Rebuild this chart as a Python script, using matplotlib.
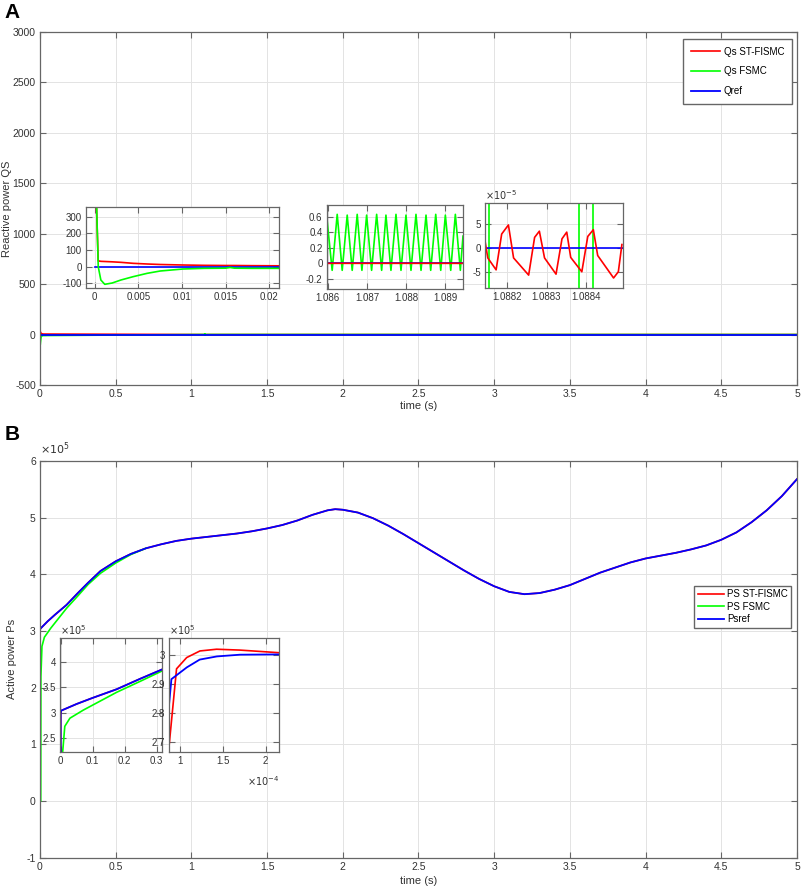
import numpy as np
import matplotlib
matplotlib.use("Agg")
import matplotlib.pyplot as plt
from matplotlib.ticker import FuncFormatter

plt.rcParams['font.family'] = ['Liberation Sans', 'DejaVu Sans']
plt.rcParams['axes.unicode_minus'] = False

RED = '#ff0000'
GREEN = '#00ff00'
BLUE = '#0000ff'
FRAME = '#666666'
TXT = '#333333'

# ---- panel A : reactive power ----
# start-up transient (s)
t_q = [0, 0.0002, 0.0004, 0.0007, 0.00115, 0.002, 0.003, 0.0044, 0.006, 0.0075,
       0.0101, 0.0125, 0.015, 0.0155, 0.016, 0.018, 0.0215]
qs_st = [1500, 360, 35, 32, 31, 29, 26, 20, 16, 13, 10, 8, 7, 7, 7, 6, 5]
qs_fsmc = [2860, 400, 0, -80, -106, -98, -80, -60, -40, -26, -14, -10, -9, -5, -9, -10, -10]

# FSMC chattering around t = 1.087 s
t_wave = [1.085967, 1.086110, 1.086239, 1.086367, 1.086495, 1.086623, 1.086751, 1.086872,
          1.086992, 1.087120, 1.087249, 1.087377, 1.087487, 1.087615, 1.087744, 1.087872,
          1.088000, 1.088128, 1.088256, 1.088385, 1.088513, 1.088633, 1.088762, 1.088890,
          1.089008, 1.089146, 1.089264, 1.089392, 1.08946]
qs_fsmc_wave = [0.62, -0.09, 0.63, -0.09, 0.62, -0.09, 0.63, -0.09, 0.62, -0.09, 0.63, -0.09,
                0.62, -0.09, 0.63, -0.09, 0.62, -0.09, 0.63, -0.09, 0.62, -0.09, 0.63, -0.09,
                0.62, -0.09, 0.63, -0.09, 0.35]

# ST-FISMC around t = 1.0883 s
t_st_zoom = [1.088145, 1.088152, 1.088173, 1.088187, 1.088204, 1.088217, 1.088255, 1.088270,
             1.088282, 1.088295, 1.088324, 1.088339, 1.088351, 1.088361, 1.088389, 1.088404,
             1.088418, 1.088429, 1.088469, 1.088481, 1.088490]
qs_st_zoom = [1.5e-5, -2.1e-5, -4.6e-5, 2.9e-5, 4.8e-5, -2.1e-5, -5.7e-5, 2.2e-5, 3.5e-5, -2.1e-5,
              -5.5e-5, 1.9e-5, 3.3e-5, -2.0e-5, -5.0e-5, 2.4e-5, 3.8e-5, -1.6e-5, -6.3e-5, -5.0e-5, 0.7e-5]
t_fsmc_cross = [1.088155, 1.088381, 1.088417]

# ---- panel B : active power (W) ----
t_p = [0, 0.00009, 0.000108, 0.000123, 0.000143, 0.00017, 0.000215, 0.002, 0.05, 0.1, 0.175,
       0.25, 0.317, 0.4, 0.5, 0.6, 0.7, 0.8, 0.9, 1.0, 1.1, 1.2, 1.3, 1.4, 1.5, 1.6, 1.7, 1.8,
       1.9, 1.95, 2.0, 2.1, 2.2, 2.3, 2.4, 2.5, 2.6, 2.7, 2.8, 2.9, 3.0, 3.1, 3.2, 3.3, 3.4,
       3.5, 3.6, 3.7, 3.8, 3.9, 4.0, 4.1, 4.2, 4.3, 4.4, 4.5, 4.6, 4.7, 4.8, 4.9, 5.0]
ps_ref = [0, 2.917e5, 2.958e5, 2.985e5, 2.996e5, 3.002e5, 3.003e5, 3.04e5, 3.17e5, 3.29e5, 3.46e5,
          3.67e5, 3.85e5, 4.06e5, 4.23e5, 4.36e5, 4.46e5, 4.53e5, 4.59e5, 4.63e5, 4.66e5, 4.69e5,
          4.72e5, 4.76e5, 4.81e5, 4.87e5, 4.95e5, 5.05e5, 5.13e5, 5.15e5, 5.14e5, 5.09e5, 4.99e5,
          4.86e5, 4.71e5, 4.55e5, 4.39e5, 4.23e5, 4.07e5, 3.92e5, 3.79e5, 3.69e5, 3.65e5, 3.67e5,
          3.73e5, 3.81e5, 3.92e5, 4.03e5, 4.12e5, 4.21e5, 4.28e5, 4.33e5, 4.38e5, 4.44e5, 4.51e5,
          4.61e5, 4.74e5, 4.92e5, 5.13e5, 5.38e5, 5.68e5]
t_st_p = [0, 0.000096, 0.0001078, 0.0001233, 0.0001427, 0.0001698, 0.000215]
ps_st = [0, 2.953e5, 2.992e5, 3.015e5, 3.021e5, 3.018e5, 3.009e5]
t_fsmc_p = [0, 0.005, 0.006, 0.013, 0.029, 0.071, 0.175, 0.25, 0.317, 0.4, 0.5, 0.6, 0.7]
ps_fsmc = [0, 0, 2.2e5, 2.73e5, 2.89e5, 3.05e5, 3.40e5, 3.62e5, 3.82e5, 4.02e5, 4.20e5, 4.35e5, 4.46e5]


def style(ax, fs):
    ax.tick_params(direction='in', top=True, right=True, labelsize=fs, colors=FRAME,
                   labelcolor=TXT, length=4, width=0.8, pad=3)
    for s in ax.spines.values():
        s.set_color(FRAME)
        s.set_linewidth(0.9)
    ax.grid(True, color='#e3e3e3', lw=0.7)
    ax.set_axisbelow(True)
    ax.xaxis.set_major_formatter(FuncFormatter(lambda v, p: f'{v:g}'))
    ax.yaxis.set_major_formatter(FuncFormatter(lambda v, p: f'{v:g}'))


def sci(ax, axis, e, fs):
    f = FuncFormatter(lambda v, p: f'{round(v / 10.0 ** e, 6):g}')
    if axis == 'y':
        ax.yaxis.set_major_formatter(f)
        ax.text(0.0, 1.01, r'$\times10^{%d}$' % e, transform=ax.transAxes, ha='left',
                va='bottom', fontsize=fs, color=TXT)
    else:
        ax.xaxis.set_major_formatter(f)
        ax.text(1.0, -0.2, r'$\times10^{%d}$' % e, transform=ax.transAxes, ha='right',
                va='top', fontsize=fs, color=TXT)


fig = plt.figure(figsize=(8.03, 8.96), dpi=100)

# ======== A ========
axA = fig.add_axes([0.0498, 0.5703, 0.9427, 0.3943])
style(axA, 7.5)
red_t = t_q + [1.086] + t_st_zoom + [1.0895, 5.0]
red_q = qs_st + [0] + qs_st_zoom + [0, 0]
axA.plot(red_t, red_q, color=RED, lw=1.2, label='Qs ST-FISMC')
axA.plot(t_q + t_wave + [5.0], qs_fsmc + qs_fsmc_wave + [0], color=GREEN, lw=1.2, label='Qs FSMC')
axA.plot([0, 5], [0, 0], color=BLUE, lw=1.3, label='Qref')
axA.set_xlim(0, 5)
axA.set_ylim(-500, 3000)
axA.set_xticks(np.arange(0, 5.01, 0.5))
axA.set_yticks(np.arange(-500, 3001, 500))
axA.set_xlabel('time (s)', fontsize=8, color=TXT, labelpad=1)
axA.set_ylabel('Reactive power QS', fontsize=8, color=TXT)
axA.yaxis.set_label_coords(-0.037, 0.5)
axA.legend(loc='upper right', bbox_to_anchor=(792 / 803, 1 - 39 / 896),
           bbox_transform=fig.transFigure, fontsize=7, handlelength=3.0, handletextpad=0.4,
           labelspacing=1.0, borderpad=0.8, borderaxespad=0, fancybox=False, edgecolor=FRAME,
           framealpha=1)
fig.text(0.006, 1 - 13 / 896, 'A', fontsize=15, fontweight='bold', va='center')

# inset 1 : transient
a1 = fig.add_axes([86 / 803, 1 - 288 / 896, 193 / 803, 81 / 896])
style(a1, 7)
a1.plot(t_q, qs_st, color=RED, lw=1.2)
a1.plot([0, 0.03], [0, 0], color=BLUE, lw=1.2)
a1.plot(t_q, qs_fsmc, color=GREEN, lw=1.2)
a1.set_xlim(-0.001, 0.0211)
a1.set_ylim(-128, 358)
a1.set_xticks([0, 0.005, 0.01, 0.015, 0.02])
a1.set_yticks([-100, 0, 100, 200, 300])

# inset 2 : chattering
a2 = fig.add_axes([326.7 / 803, 1 - 289 / 896, 136.3 / 803, 84 / 896])
style(a2, 7)
a2.plot(t_wave, qs_fsmc_wave, color=GREEN, lw=1.2)
a2.plot([0, 5], [0, 0], color=BLUE, lw=1.2)
a2.plot(red_t, red_q, color=RED, lw=1.2)
a2.set_xlim(1.08597, 1.08946)
a2.set_ylim(-0.33, 0.75)
a2.set_xticks([1.086, 1.087, 1.088, 1.089])
a2.set_yticks([-0.2, 0, 0.2, 0.4, 0.6])

# inset 3 : ST-FISMC detail
a3 = fig.add_axes([485 / 803, 1 - 288 / 896, 137.7 / 803, 85 / 896])
style(a3, 7)
a3.vlines(t_fsmc_cross, -1, 1, color=GREEN, lw=1.2)
a3.plot([0, 5], [0, 0], color=BLUE, lw=1.2)
a3.plot(t_st_zoom, qs_st_zoom, color=RED, lw=1.2)
a3.set_xlim(1.088145, 1.088492)
a3.set_ylim(-8.4e-5, 9.4e-5)
a3.set_xticks([1.0882, 1.0883, 1.0884])
a3.set_yticks([-5e-5, 0, 5e-5])
sci(a3, 'y', -5, 7)

# ======== B ========
axB = fig.add_axes([0.0498, 0.0427, 0.9427, 0.4428])
style(axB, 7.5)
red_pt = t_st_p + t_p[7:]
red_p = ps_st + ps_ref[7:]
axB.plot(red_pt, red_p, color=RED, lw=1.2, label='PS ST-FISMC')
axB.plot(t_fsmc_p, ps_fsmc, color=GREEN, lw=1.2, label='PS FSMC')
axB.plot(t_p, ps_ref, color=BLUE, lw=1.3, label='Psref')
axB.set_xlim(0, 5)
axB.set_ylim(-1e5, 6e5)
axB.set_xticks(np.arange(0, 5.01, 0.5))
axB.set_yticks(np.arange(-1e5, 6.01e5, 1e5))
sci(axB, 'y', 5, 8)
axB.set_xlabel('time (s)', fontsize=8, color=TXT, labelpad=3)
axB.set_ylabel('Active power Ps', fontsize=8, color=TXT)
axB.yaxis.set_label_coords(-0.031, 0.5)
axB.legend(loc='upper right', bbox_to_anchor=(791 / 803, 1 - 586 / 896),
           bbox_transform=fig.transFigure, fontsize=7, handlelength=2.7, handletextpad=0.3,
           labelspacing=0.25, borderpad=0.35, borderaxespad=0, fancybox=False, edgecolor=FRAME,
           framealpha=1)
fig.text(0.006, 1 - 435 / 896, 'B', fontsize=15, fontweight='bold', va='center')

# inset 1 : start-up
b1 = fig.add_axes([60 / 803, 1 - 751.7 / 896, 102 / 803, 113.7 / 896])
style(b1, 7)
b1.plot(t_fsmc_p, ps_fsmc, color=GREEN, lw=1.2)
b1.plot(red_pt, red_p, color=RED, lw=1.2)
b1.plot(t_p, ps_ref, color=BLUE, lw=1.3)
b1.set_xlim(-0.002, 0.317)
b1.set_ylim(2.23e5, 4.47e5)
b1.set_xticks([0, 0.1, 0.2, 0.3])
b1.set_yticks([2.5e5, 3e5, 3.5e5, 4e5])
sci(b1, 'y', 5, 7)

# inset 2 : first 0.2 ms
b2 = fig.add_axes([169 / 803, 1 - 751.7 / 896, 110 / 803, 113.7 / 896])
style(b2, 7)
b2.plot(t_fsmc_p, ps_fsmc, color=GREEN, lw=1.2)
b2.plot(t_st_p, ps_st, color=RED, lw=1.2)
b2.plot(t_p, ps_ref, color=BLUE, lw=1.3)
b2.set_xlim(0.872e-4, 2.155e-4)
b2.set_ylim(2.665e5, 3.06e5)
b2.set_xticks([1e-4, 1.5e-4, 2e-4])
b2.set_yticks([2.7e5, 2.8e5, 2.9e5, 3e5])
sci(b2, 'x', -4, 7)
sci(b2, 'y', 5, 7)

fig.savefig('out.png', dpi=100)
